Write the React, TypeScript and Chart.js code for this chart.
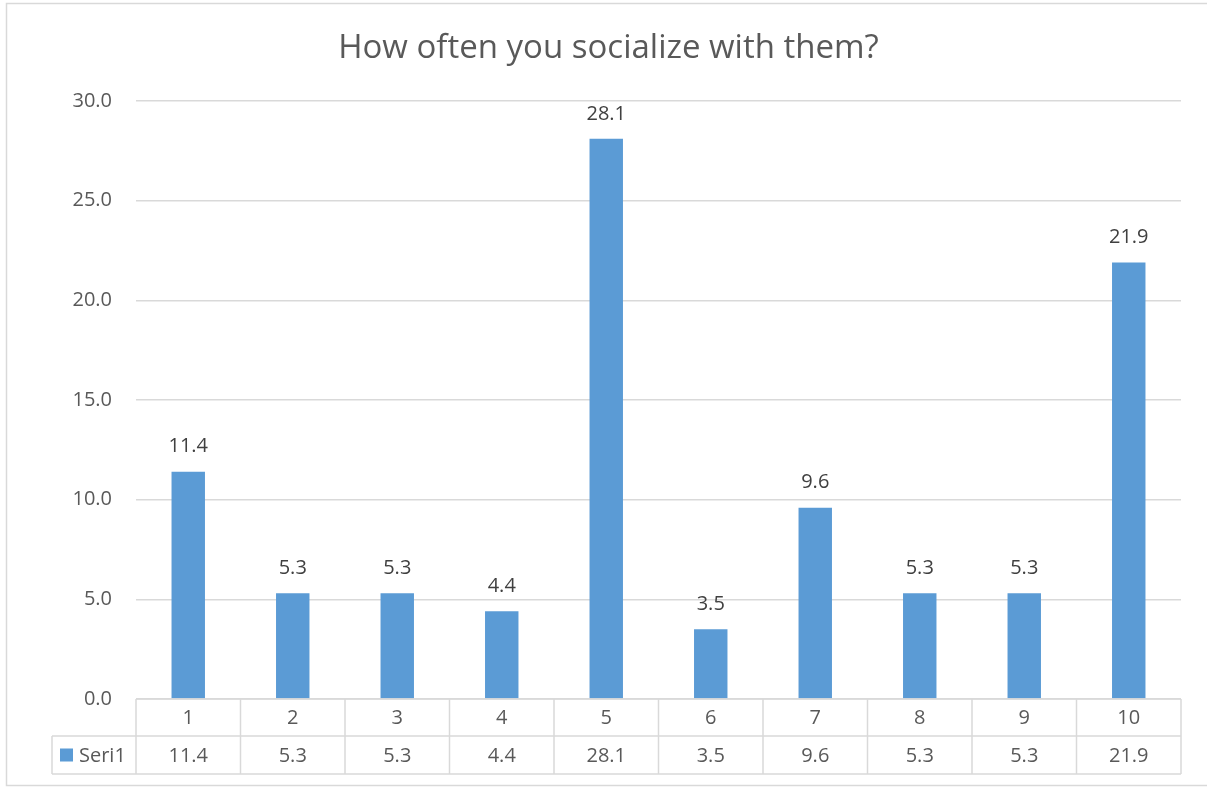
import React, { useEffect, useRef } from "react";
import { Chart, registerables } from "chart.js";

Chart.register(...registerables);

const chartTitle = "How often you socialize with them?";
const seriesName = "Seri1";
const categories = ["1", "2", "3", "4", "5", "6", "7", "8", "9", "10"];
const values = [11.4, 5.3, 5.3, 4.4, 28.1, 3.5, 9.6, 5.3, 5.3, 21.9];
const yMin = 0;
const yMax = 30;
const yStep = 5;

const FONT = "'Open Sans', 'Noto Sans', sans-serif";
const BAR = "#5B9BD5";
const GRID = "#D9D9D9";
const TEXT = "#595959";
const LABEL = "#404040";

const W = 1207;
const H = 787;

const excelPlugin = {
  id: "excelDecor",
  afterDraw(chart: any) {
    const ctx = chart.ctx;
    const area = chart.chartArea;
    const xs = chart.scales.x;
    ctx.save();

    // outer chart border
    ctx.strokeStyle = GRID;
    ctx.lineWidth = 1.5;
    ctx.strokeRect(6.5, 3.5, W + 20, 782);

    // title
    ctx.fillStyle = TEXT;
    ctx.font = `33px ${FONT}`;
    ctx.textAlign = "center";
    ctx.textBaseline = "middle";
    ctx.fillText(chartTitle, 608.5, 49);

    // data labels above bars
    const meta = chart.getDatasetMeta(0);
    ctx.fillStyle = LABEL;
    ctx.font = `20px ${FONT}`;
    meta.data.forEach((bar: any, i: number) => {
      ctx.fillText(values[i].toFixed(1), bar.x, bar.y - 25);
    });

    // data table
    const catW = (area.right - area.left) / categories.length;
    const top = area.bottom;
    const mid = top + 37;
    const bot = mid + 38;
    const legendLeft = 52;
    ctx.strokeStyle = GRID;
    ctx.lineWidth = 1.5;
    ctx.beginPath();
    ctx.moveTo(area.left, top);
    ctx.lineTo(area.right, top);
    ctx.moveTo(legendLeft, mid);
    ctx.lineTo(area.right, mid);
    ctx.moveTo(legendLeft, bot);
    ctx.lineTo(area.right, bot);
    ctx.moveTo(legendLeft, mid);
    ctx.lineTo(legendLeft, bot);
    for (let i = 0; i <= categories.length; i++) {
      const x =
        i < categories.length
          ? xs.getPixelForValue(i) - catW / 2
          : xs.getPixelForValue(i - 1) + catW / 2;
      ctx.moveTo(x, top);
      ctx.lineTo(x, bot);
    }
    ctx.stroke();

    ctx.fillStyle = TEXT;
    ctx.font = `20px ${FONT}`;
    ctx.textAlign = "center";
    categories.forEach((c, i) => {
      const x = xs.getPixelForValue(i);
      ctx.fillText(c, x, (top + mid) / 2 + 1);
      ctx.fillText(values[i].toFixed(1), x, (mid + bot) / 2 + 1);
    });

    // legend key
    ctx.fillStyle = BAR;
    ctx.fillRect(60, (mid + bot) / 2 - 6.5, 13, 13);
    ctx.fillStyle = TEXT;
    ctx.textAlign = "left";
    ctx.fillText(seriesName, 79, (mid + bot) / 2 + 1);

    ctx.restore();
  },
};

export default function App() {
  const ref = useRef<HTMLCanvasElement | null>(null);

  useEffect(() => {
    document.body.style.margin = "0";
    const canvas = ref.current;
    if (!canvas) return;
    const chart = new Chart(canvas, {
      type: "bar",
      data: {
        labels: categories,
        datasets: [
          {
            label: seriesName,
            data: values,
            backgroundColor: BAR,
            barPercentage: 0.32,
            categoryPercentage: 1,
          },
        ],
      },
      options: {
        responsive: false,
        animation: false,
        devicePixelRatio: 1,
        layout: { padding: { top: 101, left: 0, right: 26, bottom: 88 } },
        plugins: {
          legend: { display: false },
          title: { display: false },
          tooltip: { enabled: false },
        },
        scales: {
          x: {
            display: false,
            offset: true,
            grid: { display: false },
          },
          y: {
            min: yMin,
            max: yMax,
            border: { display: false },
            grid: { color: GRID, lineWidth: 1.5, drawTicks: false },
            ticks: {
              stepSize: yStep,
              padding: 24,
              color: TEXT,
              font: { family: FONT, size: 20 },
              callback: (v: any) => Number(v).toFixed(1),
            },
            afterFit: (scale: any) => {
              scale.width = 136;
            },
          },
        },
      },
      plugins: [excelPlugin],
    });
    return () => chart.destroy();
  }, []);

  return (
    <div style={{ width: W, height: H, background: "#fff" }}>
      <canvas ref={ref} width={W} height={H} style={{ display: "block" }} />
    </div>
  );
}
